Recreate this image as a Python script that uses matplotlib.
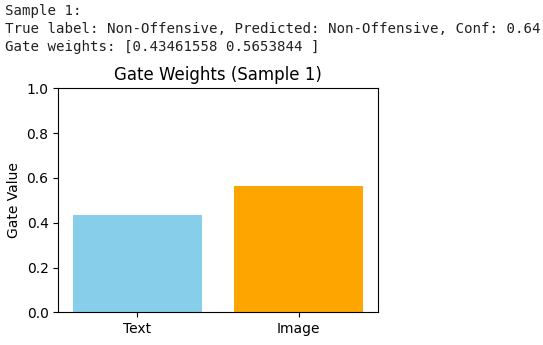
import matplotlib
matplotlib.use("Agg")
import matplotlib.pyplot as plt

categories = ["Text", "Image"]
gate_values = [0.43461558, 0.5653844]
bar_colors = ["skyblue", "orange"]
header_lines = [
    "Sample 1:",
    "True label: Non-Offensive, Predicted: Non-Offensive, Conf: 0.64",
    "Gate weights: [0.43461558 0.5653844 ]",
]

W, H = 543, 345
fig = plt.figure(figsize=(W / 100, H / 100), dpi=100)

baselines = [15.5, 33.0, 50.5]
for line, yb in zip(header_lines, baselines):
    fig.text(5 / W, 1 - yb / H, line, family="DejaVu Sans Mono", fontsize=10.2,
             va="baseline", ha="left", color="#222222")

ax = fig.add_axes([58.3 / W, (H - 312.3) / H, 319.4 / W, 224 / H])
ax.bar(categories, gate_values, color=bar_colors)
ax.set_ylim(0, 1)
ax.set_ylabel("Gate Value")
ax.set_title("Gate Weights (Sample 1)")

fig.savefig("out.png", dpi=100)
